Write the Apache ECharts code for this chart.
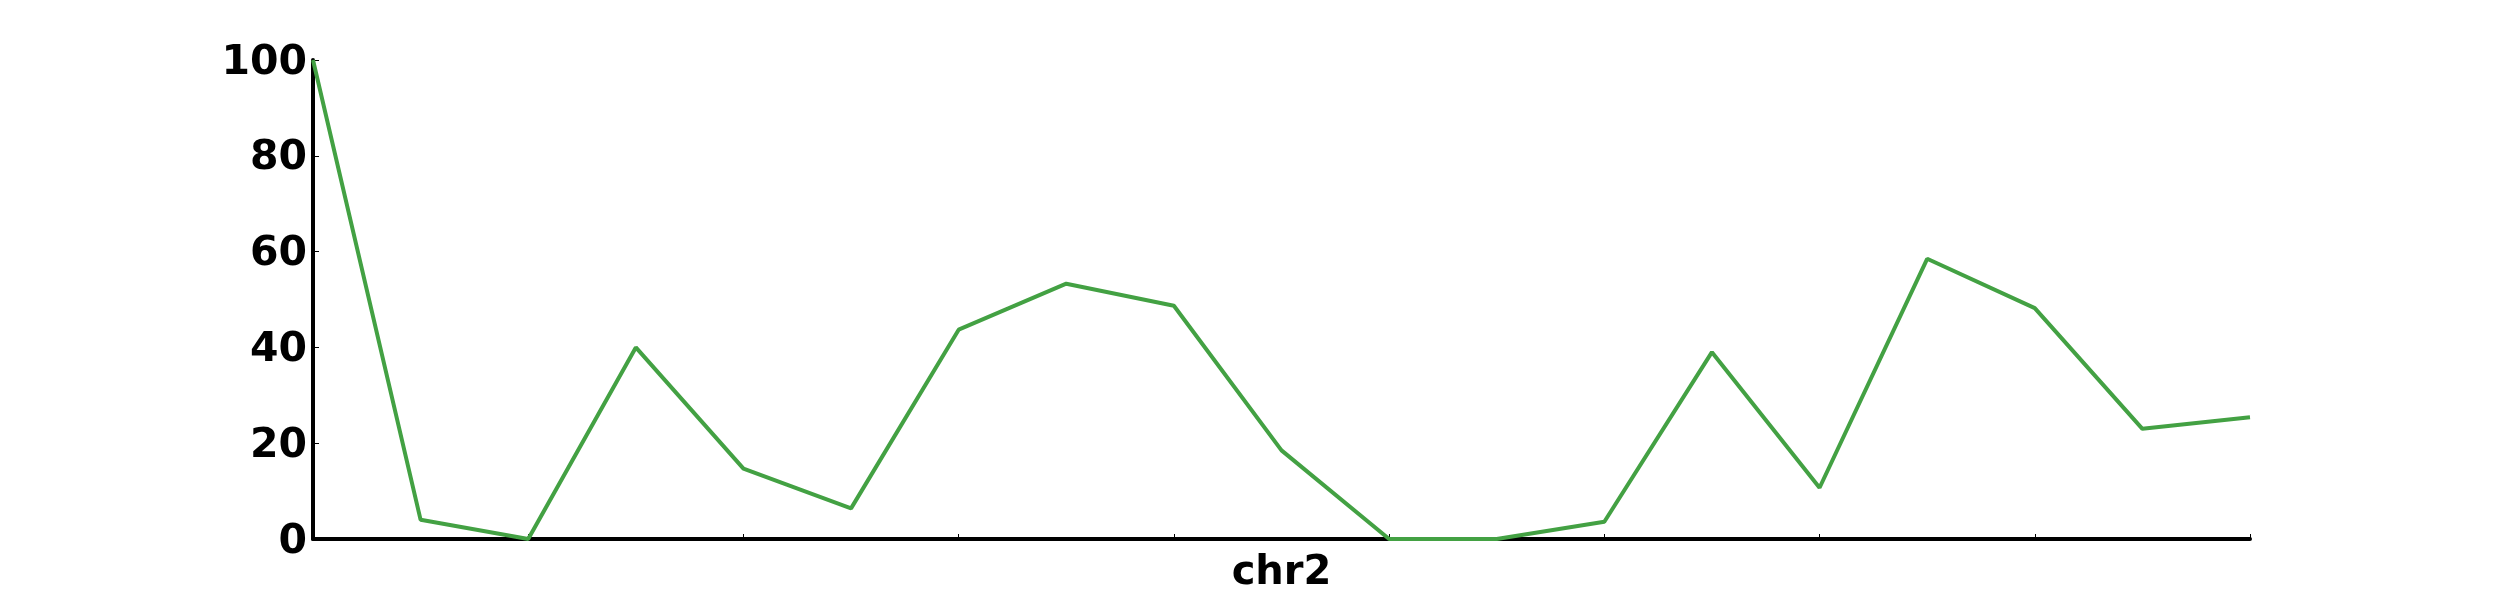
<!DOCTYPE html>
<html>
<head>
<meta charset="utf-8">
<script src="https://cdn.jsdelivr.net/npm/echarts@6/dist/echarts.min.js"></script>
<style>html,body{margin:0;padding:0;background:#fff;}#c{width:2500px;height:600px;}</style>
</head>
<body>
<div id="c"></div>
<script>
const categories = ['1','2','3','4','5','6','7','8','9','10','11','12','13','14','15','16','17','18','19'];
const values = [100, 4, 0, 40, 14.7, 6.4, 43.7, 53.3, 48.7, 18.5, 0, 0, 3.6, 39, 10.7, 58.5, 48.2, 23, 25.4];
const xName = 'chr2';
const yTicks = {min: 0, max: 100, interval: 20};

const chart = echarts.init(document.getElementById('c'), null, {renderer: 'canvas'});
chart.setOption({
  animation: false,
  backgroundColor: '#ffffff',
  grid: {left: 313, right: 250, top: 60, bottom: 61, containLabel: false},
  xAxis: {
    type: 'category',
    data: categories,
    boundaryGap: false,
    name: xName,
    nameLocation: 'middle',
    nameGap: 15,
    nameTextStyle: {fontFamily: 'DejaVu Sans', fontWeight: 'bold', fontSize: 40, color: '#000'},
    axisLine: {show: true, lineStyle: {color: '#000', width: 4}},
    axisTick: {show: true, inside: true, length: 5, lineStyle: {color: '#000', width: 1},
      interval: function (i) { return i % 2 === 0; }},
    axisLabel: {show: false},
    splitLine: {show: false}
  },
  yAxis: {
    type: 'value',
    min: yTicks.min, max: yTicks.max, interval: yTicks.interval,
    axisLine: {show: true, lineStyle: {color: '#000', width: 4}},
    axisTick: {show: true, inside: true, length: 6, lineStyle: {color: '#000', width: 1}},
    axisLabel: {
      show: true, margin: 6,
      formatter: '{a|{value}}',
      rich: {a: {padding: [6, 0, 0, 0], fontFamily: 'DejaVu Sans', fontWeight: 'bold', fontSize: 41, color: '#000'}}
    },
    splitLine: {show: false}
  },
  series: [{
    type: 'line',
    data: values,
    symbol: 'none',
    lineStyle: {color: '#43a143', width: 4},
    z: 1
  }]
});
</script>
</body>
</html>
